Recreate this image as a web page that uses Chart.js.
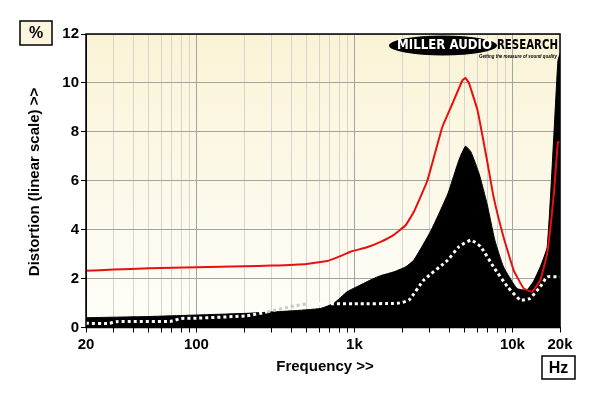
<!DOCTYPE html>
<html>
<head>
<meta charset="utf-8">
<script src="https://cdn.jsdelivr.net/npm/chart.js@4/dist/chart.umd.min.js"></script>
<style>
  body{margin:0;background:#fff;}
  canvas{display:block;}
</style>
</head>
<body>
<canvas id="chart" width="600" height="396"></canvas>
<script>
// values (Hz, %)
const redFreq = [20, 30, 50, 100, 200, 300, 500, 670, 800, 944, 1200, 1463, 1784, 2108, 2378, 2893, 3600, 4200, 4820, 5040, 5300, 6000, 6900, 7590, 8780, 10170, 11770, 13300, 15000, 16600, 18300, 19400, 20000];
const redVals = [2.32, 2.37, 2.42, 2.46, 2.5, 2.53, 2.6, 2.72, 2.9, 3.1, 3.28, 3.5, 3.8, 4.18, 4.73, 6.0, 8.2, 9.2, 10.1, 10.2, 10.0, 8.9, 6.85, 5.35, 3.7, 2.35, 1.6, 1.46, 1.94, 3.03, 5.48, 7.58, 7.58];

const blackFreq = [20, 50, 100, 209, 400, 610, 740, 898, 1100, 1320, 1463, 1784, 2108, 2378, 3060, 3906, 4580, 5040, 5460, 6150, 6900, 7740, 8780, 10670, 12300, 13540, 15000, 16600, 18300, 19400, 20000];
const blackVals = [0.4, 0.45, 0.51, 0.58, 0.68, 0.78, 0.99, 1.46, 1.75, 2.0, 2.12, 2.28, 2.48, 2.76, 3.98, 5.48, 6.84, 7.41, 7.18, 6.29, 5.07, 3.57, 2.48, 1.6, 1.53, 1.87, 2.48, 3.3, 7.9, 10.9, 11.2];

const dotFreq = [20, 28, 31, 68, 80, 100, 209, 281, 413, 500, 1000, 1870, 2213, 2748, 3906, 4580, 5460, 6300, 7590, 9300, 11250, 12900, 15000, 16600, 19400, 20000];
const dotVals = [0.17, 0.17, 0.24, 0.25, 0.37, 0.38, 0.48, 0.64, 0.88, 0.96, 0.97, 0.99, 1.12, 1.94, 2.76, 3.3, 3.57, 3.3, 2.48, 1.67, 1.12, 1.19, 1.67, 2.07, 2.07, 2.07];

const xTicks = [20,30,40,50,60,70,80,90,100,200,300,400,500,600,700,800,900,1000,2000,3000,4000,5000,6000,7000,8000,9000,10000,20000];
const xLabels = {20:'20', 100:'100', 1000:'1k', 10000:'10k', 20000:'20k'};
const yTicks = [0,2,4,6,8,10,12];

const pts=(xs,ys)=>xs.map((x,i)=>({x:x,y:ys[i]}));

const decor={
  id:'decor',
  beforeDraw(chart){
    const {ctx,chartArea:a}=chart;
    ctx.save();
    ctx.fillStyle='#fff';
    ctx.fillRect(0,0,chart.width,chart.height);
    const g=ctx.createLinearGradient(0,a.top,0,a.bottom);
    g.addColorStop(0,'#faf3d6');
    g.addColorStop(1,'#fefefa');
    ctx.fillStyle=g;
    ctx.fillRect(a.left,a.top,a.right-a.left,a.bottom-a.top);
    ctx.restore();
  },
  afterDraw(chart){
    const {ctx,chartArea:a}=chart;
    ctx.save();
    ctx.strokeStyle='#000';
    ctx.lineWidth=1.5;
    ctx.strokeRect(a.left,a.top,a.right-a.left,a.bottom-a.top);

    // unit boxes
    ctx.fillStyle='#faf5dc';
    ctx.fillRect(20,21,32,24); ctx.strokeRect(20,21,32,24);
    ctx.fillStyle='#fff';
    ctx.fillRect(542,356,33,23); ctx.strokeRect(542,356,33,23);
    ctx.fillStyle='#000';
    ctx.font='bold 16px "Liberation Sans", Arial, sans-serif';
    ctx.textAlign='center'; ctx.textBaseline='middle';
    ctx.fillText('%',36,34);
    ctx.fillText('Hz',558.5,368.5);

    // axis titles
    ctx.font='bold 15px "Liberation Sans", Arial, sans-serif';
    ctx.fillText('Frequency >>',325,367);
    ctx.save();
    ctx.translate(35,182);
    ctx.rotate(-Math.PI/2);
    ctx.fillText('Distortion (linear scale) >>',0,0);
    ctx.restore();

    // logo
    ctx.beginPath();
    ctx.ellipse(443,45.5,54,10,0,0,Math.PI*2);
    ctx.fillStyle='#000'; ctx.fill();
    ctx.font='bold 12px "DejaVu Sans", sans-serif';
    ctx.textAlign='left';
    let w=ctx.measureText('MILLER AUDIO').width;
    ctx.save(); ctx.translate(397,46); ctx.scale(95/w,1.1);
    ctx.fillStyle='#fff'; ctx.fillText('MILLER AUDIO',0,0); ctx.restore();
    w=ctx.measureText('RESEARCH').width;
    ctx.save(); ctx.translate(497,45.5); ctx.scale(61/w,1.15);
    ctx.fillStyle='#000'; ctx.fillText('RESEARCH',0,0); ctx.restore();
    ctx.font='italic bold 5px "Liberation Sans", Arial, sans-serif';
    w=ctx.measureText('Getting the measure of sound quality').width;
    ctx.save(); ctx.translate(479,56.5); ctx.scale(78/w,1);
    ctx.fillText('Getting the measure of sound quality',0,0); ctx.restore();
    ctx.restore();
  }
};

new Chart(document.getElementById('chart'),{
  type:'line',
  data:{
    datasets:[
      {data:pts(redFreq,redVals),borderColor:'#e8100e',borderWidth:2,pointRadius:0,tension:0.1,order:1},
      {data:pts(dotFreq,dotVals),borderColor:'#fff',borderWidth:3,borderDash:[3,3],borderCapStyle:'butt',pointRadius:0,tension:0.15,order:2,
        segment:{borderColor:c=>(c.p0.parsed.x>=230&&c.p1.parsed.x<=800)?'#c9c9c9':'#fff'}},
      {data:pts(blackFreq,blackVals),borderColor:'#000',backgroundColor:'#000',borderWidth:1,pointRadius:0,tension:0.15,fill:'origin',order:3}
    ]
  },
  options:{
    responsive:false,
    animation:false,
    layout:{padding:{left:0,right:40,top:34,bottom:0}},
    plugins:{legend:{display:false},tooltip:{enabled:false}},
    scales:{
      x:{
        type:'logarithmic',min:20,max:20000,
        afterBuildTicks:s=>{s.ticks=xTicks.map(v=>({value:v}));},
        afterFit:s=>{s.height=68.5;},
        ticks:{autoSkip:false,maxRotation:0,padding:3,color:'#000',
          font:{family:'"Liberation Sans", Arial, sans-serif',size:15,weight:'bold'},
          callback:v=>xLabels[v]||''},
        grid:{color:c=>{const v=c.tick&&c.tick.value;return (v===100||v===1000||v===10000)?'#a3a3a3':'#d6d4cc';},
          tickColor:'#000',tickLength:5,lineWidth:1},
        border:{color:'#000'}
      },
      y:{
        min:0,max:12,
        afterBuildTicks:s=>{s.ticks=yTicks.map(v=>({value:v}));},
        afterFit:s=>{s.width=86;},
        ticks:{padding:2,color:'#000',
          font:{family:'"Liberation Sans", Arial, sans-serif',size:15,weight:'bold'}},
        grid:{color:'#a3a3a3',tickColor:'#000',tickLength:5},
        border:{color:'#000'}
      }
    }
  },
  plugins:[decor]
});
</script>
</body>
</html>
